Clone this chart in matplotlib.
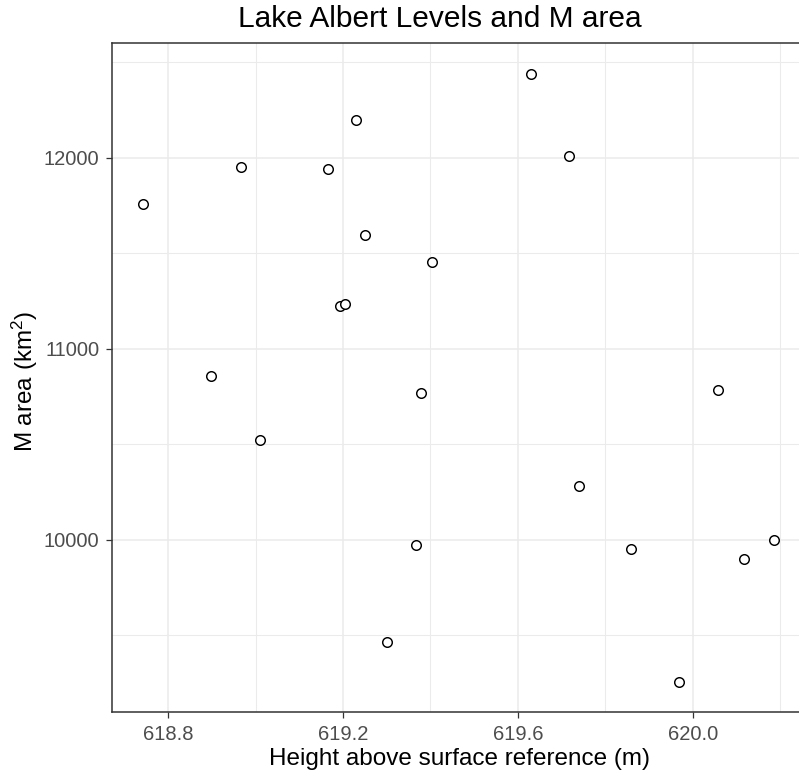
import matplotlib
matplotlib.use("Agg")
import matplotlib.pyplot as plt
from matplotlib.ticker import MultipleLocator

plt.rcParams['font.family'] = ['Liberation Sans', 'DejaVu Sans']
plt.rcParams['mathtext.default'] = 'regular'

# Lake Albert: height above reference (m) vs M area (km2)
height = [618.743, 618.898, 618.967, 619.009, 619.166, 619.194, 619.205,
          619.230, 619.250, 619.301, 619.367, 619.378, 619.404, 619.631,
          619.717, 619.740, 619.858, 619.969, 620.059, 620.117, 620.187]
m_area = [11761, 10860, 11953, 10521, 11944, 11227, 11236,
          12200, 11596, 9464, 9975, 10770, 11457, 12441,
          12012, 10281, 9951, 9257, 10787, 9901, 10002]

x_ticks = [618.8, 619.2, 619.6, 620.0]
x_labels = ["618.8", "619.2", "619.6", "620.0"]
y_ticks = [10000, 11000, 12000]
y_labels = ["10000", "11000", "12000"]

W, H = 799, 773
fig = plt.figure(figsize=(W / 100, H / 100), dpi=100)
ax = fig.add_axes([111.7 / W, (H - 712.3) / H, (806 - 111.7) / W, (712.3 - 43.3) / H])

ax.plot(height, m_area, linestyle='none', marker='o', markersize=6.9,
        markerfacecolor='white', markeredgecolor='black', markeredgewidth=1.05,
        zorder=3)

# ggplot style 5% expansion
xr = max(height) - min(height)
yr = max(m_area) - min(m_area)
ax.set_xlim(min(height) - 0.05 * xr, max(height) + 0.05 * xr)
ax.set_ylim(min(m_area) - 0.05 * yr, max(m_area) + 0.05 * yr)

ax.set_xticks(x_ticks)
ax.set_xticklabels(x_labels)
ax.set_yticks(y_ticks)
ax.set_yticklabels(y_labels)
ax.xaxis.set_minor_locator(MultipleLocator(0.2))
ax.yaxis.set_minor_locator(MultipleLocator(500))

ax.grid(True, which='major', color='#EBEBEB', linewidth=1.1, zorder=0)
ax.grid(True, which='minor', color='#EBEBEB', linewidth=0.75, zorder=0)
ax.set_axisbelow(True)

for sp in ax.spines.values():
    sp.set_color('#333333')
    sp.set_linewidth(1.1)

ax.tick_params(which='major', length=4, width=0.9, color='#333333',
               labelcolor='#4D4D4D', labelsize=14.5, pad=5)
ax.tick_params(which='minor', length=0)

fig.text(440 / W, 1 - 19 / H, "Lake Albert Levels and M area", ha='center',
         va='center', fontsize=21.5, color='black')
fig.text(459 / W, 1 - 759 / H, "Height above surface reference (m)", ha='center',
         va='center', fontsize=17.5, color='black')
fig.text(25 / W, 1 - 381 / H, "M area (km$^{2}$)", ha='center', va='center',
         rotation=90, fontsize=17.5, color='black')

fig.savefig("out.png", dpi=100)
